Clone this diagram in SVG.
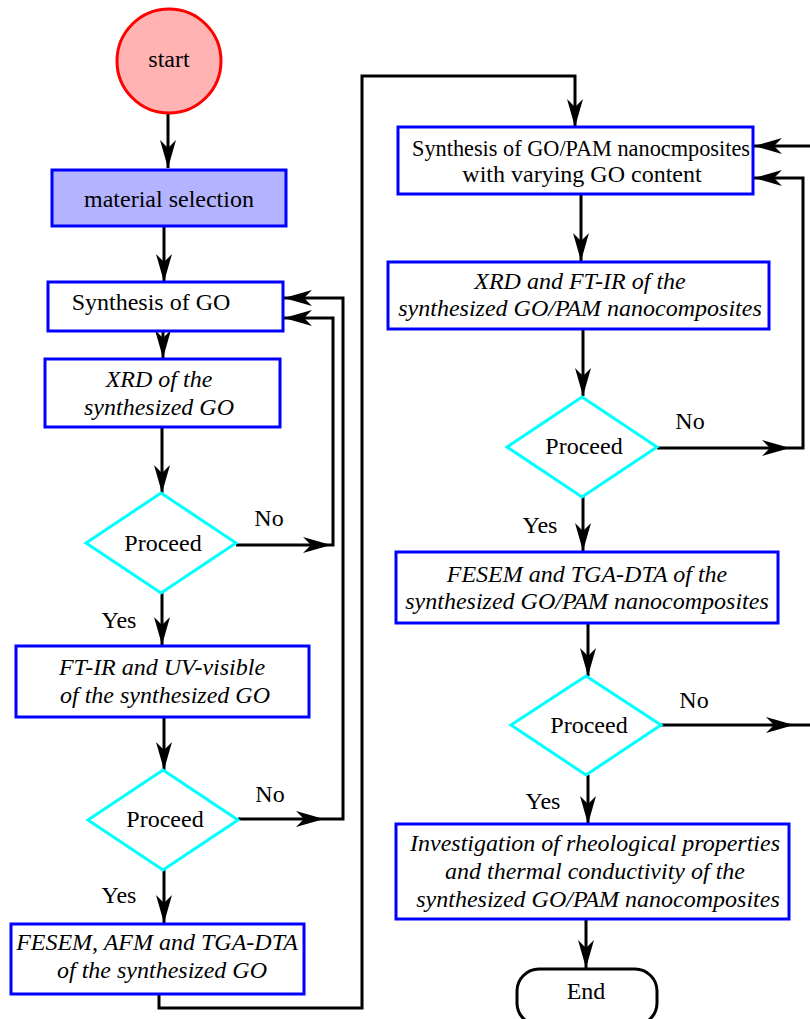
<svg xmlns="http://www.w3.org/2000/svg" width="810" height="1019" viewBox="0 0 810 1019">
<defs>
<style>
.box{fill:#fff;stroke:#0000ff;stroke-width:3}
.dia{fill:#fff;stroke:#00ffff;stroke-width:3}
.t{font-family:"Liberation Serif","Times New Roman",serif;font-size:24px;fill:#000;text-anchor:middle}
.i{font-style:italic}
.c{fill:none;stroke:#000;stroke-width:3}
</style>
<marker id="ah" viewBox="0 0 28 16" refX="28" refY="8" markerWidth="28" markerHeight="16" markerUnits="userSpaceOnUse" orient="auto">
<path d="M0,0 L28,8 L0,16 L8,8 Z" fill="#000"/>
</marker>
</defs>
<rect width="810" height="1019" fill="#fff"/>
<g id="connectors">
<path class="c" d="M168,114 V168" marker-end="url(#ah)"/>
<path class="c" d="M164,226 V282" marker-end="url(#ah)"/>
<path class="c" d="M163,331 V358" marker-end="url(#ah)"/>
<path class="c" d="M162,427 V493" marker-end="url(#ah)"/>
<path class="c" d="M162,593 V645" marker-end="url(#ah)"/>
<path class="c" d="M164,717 V770" marker-end="url(#ah)"/>
<path class="c" d="M164,870 V923" marker-end="url(#ah)"/>
<path class="c" d="M236,545 H331" marker-end="url(#ah)"/>
<path class="c" d="M331,545 H333 V318 H284" marker-end="url(#ah)"/>
<path class="c" d="M238,819 H324" marker-end="url(#ah)"/>
<path class="c" d="M324,819 H343 V298 H284" marker-end="url(#ah)"/>
<path class="c" d="M159,994 V1008 H362 V76 H575 V127" marker-end="url(#ah)"/>
<path class="c" d="M581,194 V261" marker-end="url(#ah)"/>
<path class="c" d="M583,329 V396" marker-end="url(#ah)"/>
<path class="c" d="M583,497 V551" marker-end="url(#ah)"/>
<path class="c" d="M588,623 V676" marker-end="url(#ah)"/>
<path class="c" d="M588,775 V824" marker-end="url(#ah)"/>
<path class="c" d="M586,919 V968" marker-end="url(#ah)"/>
<path class="c" d="M657,448 H790" marker-end="url(#ah)"/>
<path class="c" d="M790,448 H803 V178 H754" marker-end="url(#ah)"/>
<path class="c" d="M661,725 H794" marker-end="url(#ah)"/>
<path class="c" d="M794,725 H812"/>
<path class="c" d="M812,146 H754" marker-end="url(#ah)"/>
<text class="t" x="269" y="526">No</text>
<text class="t" x="119" y="628">Yes</text>
<text class="t" x="270" y="802">No</text>
<text class="t" x="119" y="903">Yes</text>
<text class="t" x="690" y="429">No</text>
<text class="t" x="540" y="533">Yes</text>
<text class="t" x="694" y="708">No</text>
<text class="t" x="543" y="809">Yes</text>
</g>
<g id="start">
<circle cx="169" cy="61" r="52" fill="#ffb3b3" stroke="#ff0000" stroke-width="3"/>
<text class="t" x="169" y="67">start</text>
</g>
<g id="material">
<rect x="52" y="170" width="234" height="56" fill="#b3b3ff" stroke="#0000ff" stroke-width="3"/>
<text class="t" x="169" y="207">material selection</text>
</g>
<g id="synth-go">
<rect class="box" x="48" y="282" width="235" height="49"/>
<text class="t" x="151" y="310">Synthesis of GO</text>
</g>
<g id="xrd-go">
<rect class="box" x="45" y="359" width="235" height="68"/>
<text class="t i" x="159" y="387">XRD of the</text>
<text class="t i" x="159" y="415">synthesized GO</text>
</g>
<g id="proceed1">
<polygon class="dia" points="161,493 236,543 161,593 86,543"/>
<text class="t" x="163" y="551">Proceed</text>
</g>
<g id="ftir-go">
<rect class="box" x="16" y="646" width="293" height="71"/>
<text class="t i" x="162" y="675">FT-IR and UV-visible</text>
<text class="t i" x="165" y="703">of the synthesized GO</text>
</g>
<g id="proceed2">
<polygon class="dia" points="163,770 238,820 163,870 88,820"/>
<text class="t" x="165" y="827">Proceed</text>
</g>
<g id="fesem-go">
<rect class="box" x="11" y="924" width="293" height="70"/>
<text class="t i" x="157" y="950">FESEM, AFM and TGA-DTA</text>
<text class="t i" x="162" y="978">of the synthesized GO</text>
</g>
<g id="synth-pam">
<rect class="box" x="398" y="127" width="355" height="67"/>
<text class="t" x="581" y="156" textLength="338" lengthAdjust="spacingAndGlyphs">Synthesis of GO/PAM  nanocmposites</text>
<text class="t" x="582" y="182">with varying GO content</text>
</g>
<g id="xrd-pam">
<rect class="box" x="388" y="262" width="381" height="67"/>
<text class="t i" x="580" y="289">XRD and FT-IR of the</text>
<text class="t i" x="580" y="316">synthesized GO/PAM  nanocomposites</text>
</g>
<g id="proceed3">
<polygon class="dia" points="582,397 657,447 582,497 507,447"/>
<text class="t" x="584" y="454">Proceed</text>
</g>
<g id="fesem-pam">
<rect class="box" x="396" y="552" width="382" height="71"/>
<text class="t i" x="587" y="582">FESEM and TGA-DTA  of the</text>
<text class="t i" x="587" y="609">synthesized GO/PAM  nanocomposites</text>
</g>
<g id="proceed4">
<polygon class="dia" points="586,676 661,725 586,775 511,725"/>
<text class="t" x="589" y="733">Proceed</text>
</g>
<g id="investigation">
<rect class="box" x="396" y="824" width="393" height="95"/>
<text class="t i" x="595" y="851">Investigation of rheological properties</text>
<text class="t i" x="595" y="879">and thermal conductivity of the</text>
<text class="t i" x="598" y="907">synthesized GO/PAM  nanocomposites</text>
</g>
<g id="end">
<rect x="517" y="969" width="140" height="56" rx="22" fill="#fff" stroke="#000" stroke-width="3"/>
<text class="t" x="586" y="999">End</text>
</g>
</svg>
